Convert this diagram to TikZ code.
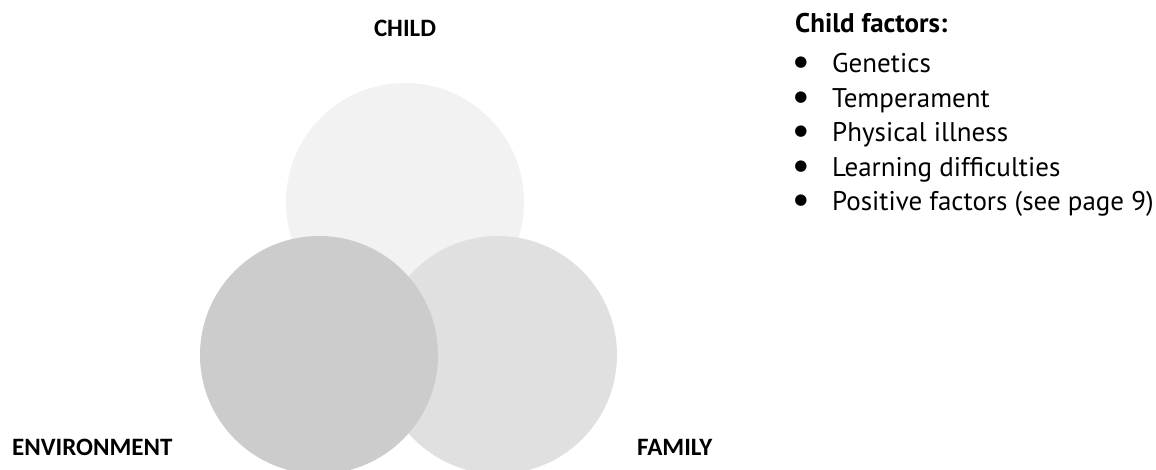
\documentclass[tikz,border=0pt]{standalone}
\usepackage{fontspec}
\setmainfont{PT Sans}
\newfontfamily\labelfont{Carlito}
\newfontfamily\symbolfont{DejaVu Sans}
\begin{document}
\begin{tikzpicture}[x=1pt,y=-1pt,
  disc/.style={circle,inner sep=0pt,minimum size=238pt,draw=none},
  axislabel/.style={font=\labelfont\bfseries\fontsize{25}{30}\selectfont,inner sep=0pt},
  listhead/.style={font=\bfseries\fontsize{27}{32}\selectfont,inner sep=0pt,anchor=base west},
  listitem/.style={font=\fontsize{27}{32}\selectfont,inner sep=0pt,anchor=base west},
  dot/.style={font=\symbolfont\fontsize{15}{18}\selectfont,inner sep=0pt,anchor=center}]
  \definecolor{childgrey}{HTML}{F2F2F2}
  \definecolor{familygrey}{HTML}{E0E0E0}
  \definecolor{envgrey}{HTML}{CCCCCC}
  \useasboundingbox (0,0) rectangle (1156,470);
  % the three overlapping factor circles
  \node[disc,fill=childgrey] (childc) at (405,202) {};
  \node[disc,fill=familygrey] (famc) at (498,355) {};
  \node[disc,fill=envgrey] (envc) at (319,355) {};
  % circle labels
  \node[axislabel,anchor=base] (childl) at (405,37) {CHILD};
  \node[axislabel,anchor=base west] (envl) at (12,455) {ENVIRONMENT};
  \node[axislabel,anchor=base west] (faml) at (637,455) {FAMILY};
  % list of child factors
  \node[listhead] (head) at (795,33) {Child factors:};
  \foreach \y/\t [count=\i] in {73/Genetics,108/Temperament,142/Physical illness,177/Learning difficulties,211/Positive factors (see page 9)}{
    \node[dot] (b\i) at (801,\y-10) {●};
    \node[listitem] (item\i) at (832,\y) {\t};
  }
\end{tikzpicture}
\end{document}
